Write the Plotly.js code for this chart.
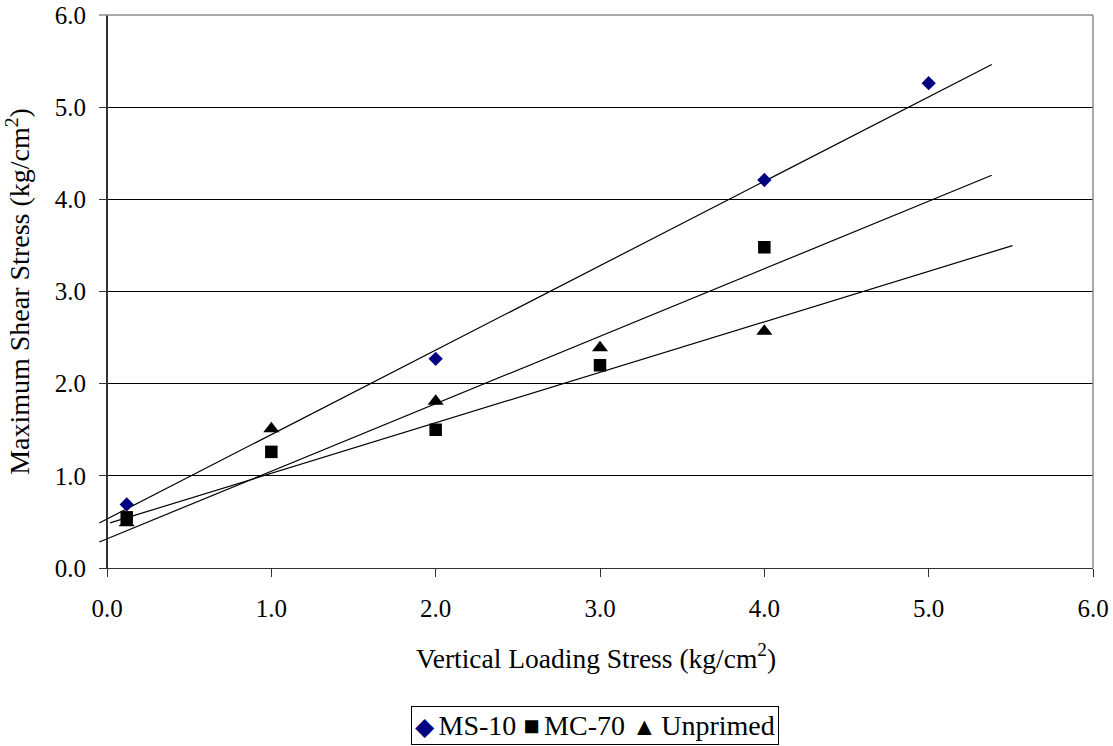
<!DOCTYPE html>
<html>
<head>
<meta charset="utf-8">
<script src="https://cdn.plot.ly/plotly-3.0.1.min.js"></script>
<style>html,body{margin:0;padding:0;background:#fff;}</style>
</head>
<body>
<div id="chart" style="width:1113px;height:746px;"></div>
<script>
// ---- data ----
var seriesNames = ["MS-10", "MC-70", "Unprimed"];
var seriesColors = ["#000080", "#000000", "#000000"];
var seriesSymbols = ["diamond", "square", "triangle-up"];
var legendGlyphs = ["\u25C6", "\u25A0", "\u25B2"];
var ms10X = [0.12, 2, 4, 5];
var ms10Y = [0.69, 2.27, 4.21, 5.26];
var mc70X = [0.12, 1, 2, 3, 4];
var mc70Y = [0.55, 1.26, 1.50, 2.20, 3.48];
var unprimedX = [0.12, 1, 2, 3, 4];
var unprimedY = [0.49, 1.51, 1.81, 2.39, 2.57];
// linear trendlines (as drawn in the reference): slope, intercept and x extent
var trendSlope = [0.916, 0.7325, 0.548];
var trendIntercept = [0.532, 0.317, 0.479];
var trendXFrom = [-0.047, -0.047, 0.018];
var trendXTo = [5.384, 5.384, 5.51];
var tickVals = [0, 1, 2, 3, 4, 5, 6];
var tickText = ["0.0", "1.0", "2.0", "3.0", "4.0", "5.0", "6.0"];

var FONT = "Liberation Serif, Times New Roman, serif";

var traces = [];
for (var i = 0; i < trendSlope.length; i++) {
  var xs = [trendXFrom[i], trendXTo[i]];
  traces.push({
    type: "scatter", mode: "lines",
    x: xs,
    y: xs.map(function (v) { return trendIntercept[i] + trendSlope[i] * v; }),
    line: {color: "#000", width: 1.2},
    showlegend: false, hoverinfo: "skip"
  });
}
var seriesX = [ms10X, mc70X, unprimedX];
var seriesY = [ms10Y, mc70Y, unprimedY];
var markerSizes = [11, 12.5, 14];
for (var s = 0; s < seriesNames.length; s++) {
  traces.push({
    type: "scatter", mode: "markers", name: seriesNames[s],
    x: seriesX[s], y: seriesY[s],
    marker: {symbol: seriesSymbols[s], size: markerSizes[s], color: seriesColors[s]},
    showlegend: false
  });
}

// legend drawn as a boxed text annotation (Excel-style compact legend)
var glyphSizes = [25, 27, 25];
var legendParts = [];
for (var k = 0; k < seriesNames.length; k++) {
  legendParts.push('<span style="font-size:' + glyphSizes[k] + 'px;color:' + seriesColors[k] + '">' + legendGlyphs[k] + '</span><span style="font-size:18px"> </span>' + seriesNames[k]);
}
var legendText = legendParts.join(' ');

var layout = {
  width: 1113, height: 746,
  margin: {l: 99, r: 20, t: 15, b: 178},
  paper_bgcolor: "#fff", plot_bgcolor: "#fff",
  font: {family: FONT, size: 25, color: "#000"},
  showlegend: false,
  xaxis: {
    range: [-0.0487, 6], tickvals: tickVals, ticktext: tickText,
    ticks: "outside", ticklen: 8, tickcolor: "#333", tickwidth: 1,
    showgrid: false, zeroline: true, zerolinecolor: "#333", zerolinewidth: 1.3,
    showline: true, linecolor: "#333", linewidth: 1.3,
    ticklabelstandoff: 10,
    tickfont: {family: FONT, size: 25, color: "#000"},
    title: {text: "Vertical Loading Stress (kg/cm<sup>2</sup>)", font: {family: FONT, size: 27.5, color: "#000"}, standoff: 27}
  },
  yaxis: {
    range: [0, 6], tickvals: tickVals, ticktext: tickText,
    ticks: "inside", ticklen: 8, tickcolor: "#333", tickwidth: 1,
    showgrid: true, gridcolor: "#000", gridwidth: 1,
    zeroline: false, showline: false,
    ticklabelstandoff: 12,
    tickfont: {family: FONT, size: 25, color: "#000"},
    title: {text: "Maximum Shear Stress (kg/cm<sup>2</sup>)", font: {family: FONT, size: 28, color: "#000"}, standoff: 16}
  },
  annotations: [{
    xref: "paper", yref: "paper", x: 0.499, y: -0.2857,
    xanchor: "center", yanchor: "middle",
    text: legendText, showarrow: false,
    font: {family: FONT, size: 28, color: "#000"},
    bordercolor: "#000", borderwidth: 1, borderpad: 3, bgcolor: "#fff"
  }],
  shapes: [
    {type: "line", xref: "paper", yref: "paper", x0: 0, x1: 1, y0: 1, y1: 1, line: {color: "#8c8c8c", width: 1.5}},
    {type: "line", xref: "paper", yref: "paper", x0: 1, x1: 1, y0: 0, y1: 1, line: {color: "#8c8c8c", width: 1.5}}
  ]
};

Plotly.newPlot("chart", traces, layout, {displayModeBar: false, staticPlot: true});
</script>
</body>
</html>
